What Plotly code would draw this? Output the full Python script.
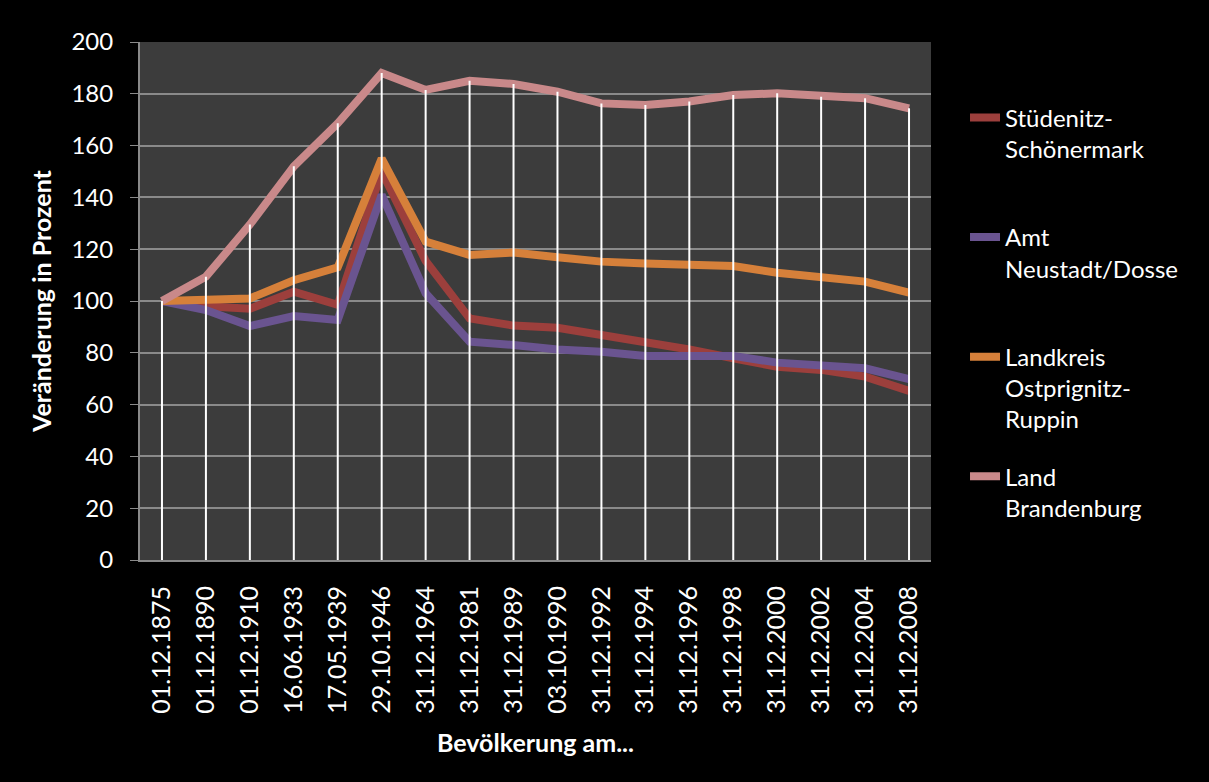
import plotly.graph_objects as go

# Stichtage der Bevölkerungszählungen
dates = ["01.12.1875", "01.12.1890", "01.12.1910", "16.06.1933", "17.05.1939",
         "29.10.1946", "31.12.1964", "31.12.1981", "31.12.1989", "03.10.1990",
         "31.12.1992", "31.12.1994", "31.12.1996", "31.12.1998", "31.12.2000",
         "31.12.2002", "31.12.2004", "31.12.2008"]

# Bevölkerung in Prozent (1875 = 100)
stuedenitz = [100, 98, 97, 103.6, 98.5, 150, 115.5, 93.3, 90.5, 89.7, 86.9, 84.3,
              81.3, 77.9, 74.6, 73.4, 70.8, 65.3]
neustadt = [100, 96.5, 90.3, 94.2, 92.7, 141, 103, 84.3, 83, 81.3, 80.4, 78.8,
            78.8, 78.8, 76.2, 74.9, 74, 69.8]
landkreis = [100, 100.8, 101, 108, 113, 155, 122.9, 117.8, 118.7, 116.9, 115.2,
             114.5, 113.9, 113.5, 110.9, 109.4, 107.5, 103.2]
brandenburg = [100, 109.4, 129.5, 152, 168.6, 188, 181.5, 185, 183.8, 180.8, 176.3,
               175.7, 177, 179.5, 180.2, 178.9, 178.3, 174.4]

series = [
    ("Stüdenitz-<br>Schönermark<br> ", stuedenitz, "#9c3f3c"),
    ("Amt<br>Neustadt/Dosse<br> ", neustadt, "#6a5490"),
    ("Landkreis<br>Ostprignitz-<br>Ruppin", landkreis, "#d6803a"),
    ("Land<br>Brandenburg<br> ", brandenburg, "#c9898a"),
]

FONT = "Lato"

fig = go.Figure()
for i, (name, vals, color) in enumerate(series):
    fig.add_trace(go.Scatter(
        x=dates, y=vals, name=name, mode="lines",
        line=dict(color=color, width=8),
        legendgroup=f"g{i}",
    ))

# Lotlinien vom höchsten Wert jedes Stichtags zur Achse
top = [max(v) for v in zip(stuedenitz, neustadt, landkreis, brandenburg)]
drop_x, drop_y = [], []
for d, t in zip(dates, top):
    drop_x += [d, d, None]
    drop_y += [0, t, None]
fig.add_trace(go.Scatter(
    x=drop_x, y=drop_y, mode="lines", showlegend=False, hoverinfo="skip",
    line=dict(color="#ffffff", width=2),
))

fig.update_layout(
    width=1209, height=782,
    paper_bgcolor="#000000", plot_bgcolor="#3c3c3c",
    margin=dict(l=140, r=278, t=42, b=222),
    font=dict(family=FONT, color="#ffffff", size=24),
    showlegend=True,
    legend=dict(
        x=1.043, xanchor="left", y=0.897, yanchor="top",
        bgcolor="rgba(0,0,0,0)", font=dict(family=FONT, size=24, color="#ffffff"),
        tracegroupgap=23, valign="top", traceorder="grouped",
    ),
)

fig.update_yaxes(
    range=[0, 200], dtick=20, showgrid=True, gridcolor="#8a8a8a", gridwidth=2,
    showline=True, linecolor="#8a8a8a", linewidth=2,
    ticks="outside", ticklen=8, tickcolor="#8a8a8a", tickwidth=1,
    tickfont=dict(family=FONT, size=24, color="#ffffff"),
    ticklabelstandoff=12, zeroline=False,
    title=dict(text="<b>Veränderung in Prozent</b>", standoff=13,
               font=dict(family=FONT, size=25, color="#ffffff")),
)

fig.update_xaxes(
    type="category", range=[-0.5, len(dates) - 0.5], tickangle=-90, showgrid=False,
    showline=True, linecolor="#8a8a8a", linewidth=2,
    ticks="", tickfont=dict(family=FONT, size=25, color="#ffffff"),
    ticklabelstandoff=14,
    title=dict(text="<b>Bevölkerung am...</b>", standoff=22,
               font=dict(family=FONT, size=25, color="#ffffff")),
)

fig.write_html("out.html")
